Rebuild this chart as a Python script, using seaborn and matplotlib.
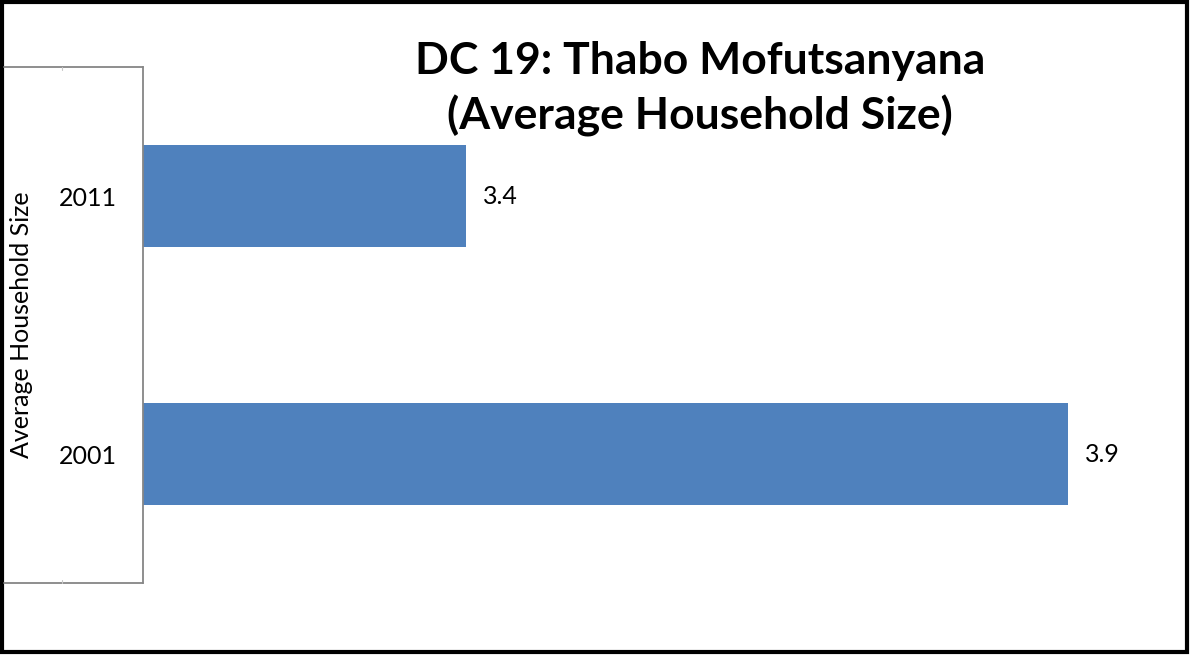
import matplotlib
matplotlib.use("Agg")
import matplotlib.pyplot as plt
import seaborn as sns
import pandas as pd
from matplotlib.patches import Rectangle
from matplotlib.lines import Line2D

years = ["2011", "2001"]
values = [3.4, 3.9]
value_labels = ["3.4", "3.9"]
title = "DC 19: Thabo Mofutsanyana\n(Average Household Size)"
ylabel = "Average Household Size"

sns.set_theme(style="white")
plt.rcParams['font.family'] = ['Lato', 'DejaVu Sans']

W, H = 1190, 655
fig = plt.figure(figsize=(W / 100, H / 100), dpi=100)
fig.patch.set_facecolor("white")

def fx(px):
    return px / W

def fy(py):
    return 1 - py / H

ax = fig.add_axes([fx(143), fy(583), fx(1188) - fx(143), fy(67) - fy(583)])
df = pd.DataFrame({"year": years, "value": values})
sns.barplot(data=df, x="value", y="year", order=years, orient="h",
            color="#4F81BD", saturation=1, width=0.395, ax=ax, edgecolor="none")
ax.set_xlim(3.1317, 3.1317 + 1045 / 1204)
ax.set_ylim(1.5, -0.5)

for sp in ["top", "right", "bottom"]:
    ax.spines[sp].set_visible(False)
ax.spines["left"].set_color("#868686")
ax.spines["left"].set_linewidth(1.3)
ax.set_xticks([])
ax.set_xlabel("")
ax.set_ylabel("")
ax.tick_params(axis="y", length=0, pad=19, labelsize=18, labelcolor="black")

for i, (v, t) in enumerate(zip(values, value_labels)):
    ax.annotate(t, xy=(v, i), xytext=(12, 0), textcoords="offset points",
                va="center", ha="left", fontsize=18, color="black")

# bracket lines of the category axis
for py, d in ((67, 3), (583, -3)):
    fig.add_artist(Line2D([fx(4), fx(143)], [fy(py), fy(py)], color="#868686",
                          lw=1.3, transform=fig.transFigure))
    fig.add_artist(Line2D([fx(62), fx(62)], [fy(py), fy(py + d)],
                          color="#C8C8C8", lw=0.8, transform=fig.transFigure))

fig.text(fx(22), fy(325), ylabel, rotation=90, ha="center", va="center",
         fontsize=18, color="black")

fig.text(fx(700), fy(89), title, ha="center", va="center", fontsize=32,
         fontweight="bold", color="black", linespacing=1.42)

# outer border
fig.add_artist(Rectangle((fx(2), fy(652)), fx(1187) - fx(2), fy(2) - fy(652),
                         transform=fig.transFigure, fill=False,
                         edgecolor="black", lw=3))

fig.savefig("out.png", dpi=100)
